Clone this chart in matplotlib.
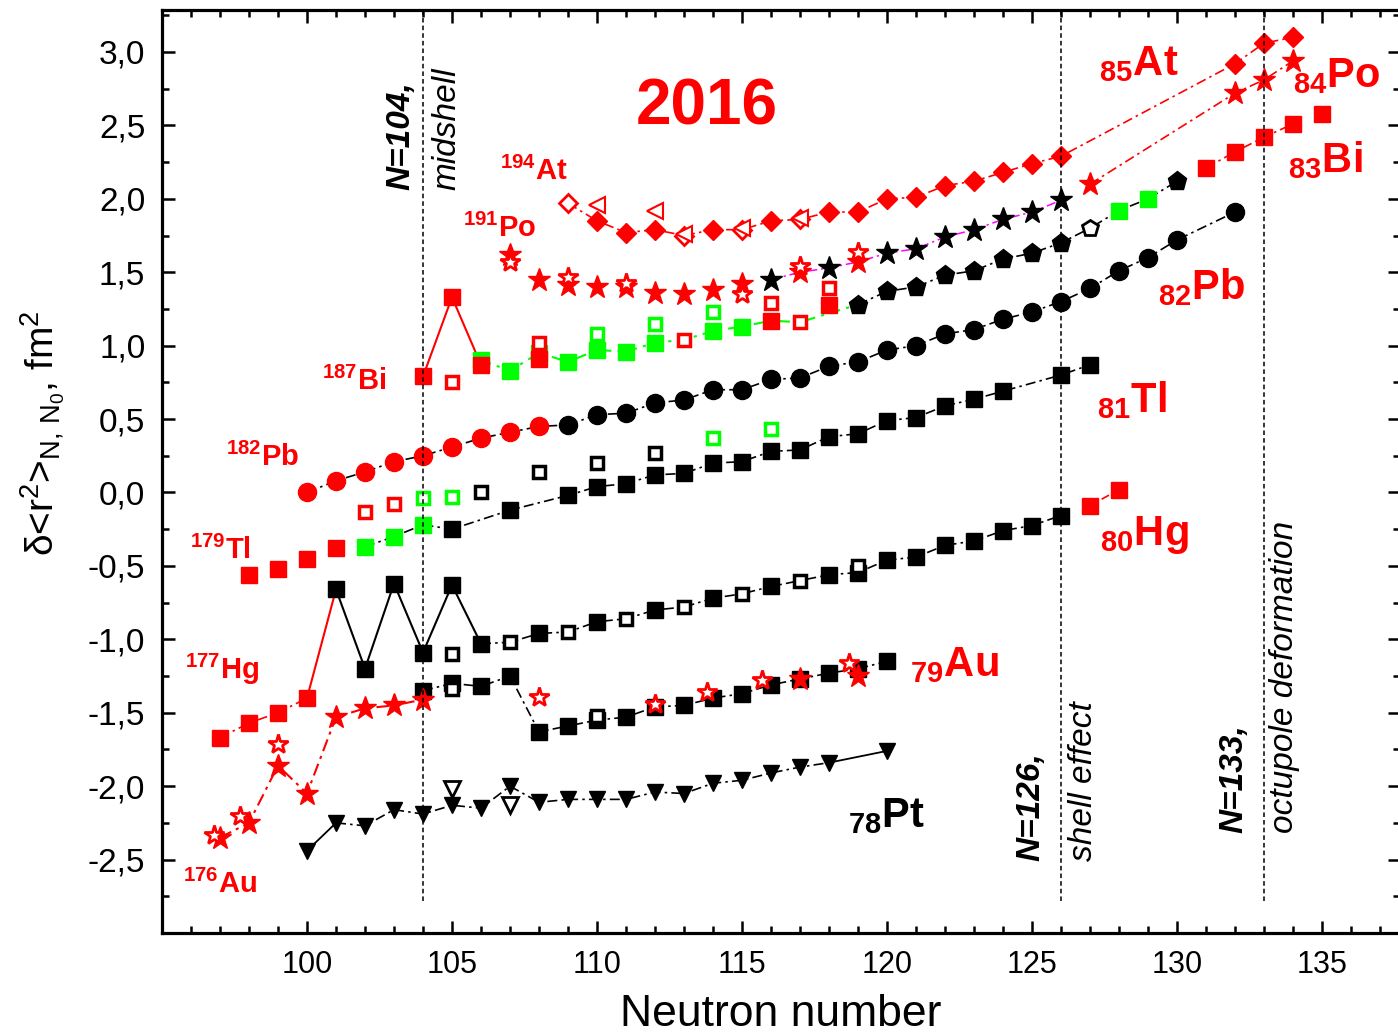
import matplotlib
matplotlib.use("Agg")
import matplotlib.pyplot as plt
from matplotlib.ticker import MultipleLocator, FuncFormatter

plt.rcParams['font.family'] = ['Liberation Sans', 'DejaVu Sans']
plt.rcParams['mathtext.fontset'] = 'custom'
plt.rcParams['mathtext.rm'] = 'Liberation Sans'
plt.rcParams['mathtext.it'] = 'Liberation Sans:italic'
plt.rcParams['mathtext.bf'] = 'Liberation Sans:bold'

RED = '#ff0000'
GREEN = '#00ff00'
MAG = '#ff00ff'

# ---- At (Z=85)
at_n = [110, 111, 112, 114, 116, 118, 119, 120, 121, 122, 123, 124, 125, 126, 132, 133, 134]
at_r = [1.85, 1.77, 1.79, 1.79, 1.85, 1.91, 1.91, 2.00, 2.01, 2.09, 2.12, 2.18, 2.24, 2.29, 2.92, 3.06, 3.10]
at_open_n = [109, 113, 115, 117]
at_open_r = [1.97, 1.75, 1.79, 1.86]
at_tri_n = [110, 112, 113, 115, 117]
at_tri_r = [1.96, 1.92, 1.76, 1.80, 1.87]

# ---- Po (Z=84)
po_n = [107, 108, 109, 110, 111, 112, 113, 114, 115, 117, 119, 127, 132, 133, 134]
po_r = [1.62, 1.45, 1.41, 1.40, 1.40, 1.36, 1.35, 1.38, 1.42, 1.50, 1.57, 2.10, 2.72, 2.81, 2.94]
po_open_n = [107, 109, 111, 115, 117, 119]
po_open_r = [1.57, 1.47, 1.43, 1.35, 1.54, 1.64]
po_blk_n = [116, 118, 120, 121, 122, 123, 124, 125, 126]
po_blk_r = [1.45, 1.53, 1.63, 1.66, 1.74, 1.79, 1.86, 1.91, 1.99]

# ---- Bi (Z=83)
bi_n = [104, 105, 106, 108, 116, 118, 131, 132, 133, 134, 135]
bi_r = [0.79, 1.33, 0.87, 0.91, 1.17, 1.28, 2.21, 2.32, 2.42, 2.51, 2.58]
bi_open_n = [105, 108, 113, 116, 117, 118]
bi_open_r = [0.75, 1.02, 1.04, 1.29, 1.16, 1.39]
bi_grn_n = [106, 107, 108, 109, 110, 111, 112, 114, 115, 128, 129]
bi_grn_r = [0.90, 0.83, 0.95, 0.89, 0.97, 0.96, 1.02, 1.10, 1.13, 1.92, 2.00]
bi_grn_open_n = [110, 112, 114]
bi_grn_open_r = [1.08, 1.15, 1.23]
bi_pent_n = [119, 120, 121, 122, 123, 124, 125, 126, 130]
bi_pent_r = [1.28, 1.37, 1.40, 1.48, 1.51, 1.59, 1.63, 1.70, 2.12]
bi_pent_open_n = [127]
bi_pent_open_r = [1.80]

# ---- Pb (Z=82)
pb_red_n = [100, 101, 102, 103, 104, 105, 106, 107, 108]
pb_red_r = [0.00, 0.08, 0.14, 0.21, 0.25, 0.31, 0.37, 0.41, 0.45]
pb_n = [109, 110, 111, 112, 113, 114, 115, 116, 117, 118, 119, 120, 121, 122, 123, 124, 125, 126, 127, 128, 129, 130, 132]
pb_r = [0.46, 0.53, 0.54, 0.61, 0.63, 0.70, 0.70, 0.77, 0.78, 0.86, 0.89, 0.97, 1.00, 1.08, 1.11, 1.18, 1.23, 1.30, 1.39, 1.51, 1.60, 1.72, 1.91]

# ---- Tl (Z=81)
tl_red_n = [98, 99, 100, 101]
tl_red_r = [-0.56, -0.52, -0.45, -0.38]
tl_grn_n = [102, 103, 104]
tl_grn_r = [-0.37, -0.30, -0.22]
tl_n = [105, 107, 109, 110, 111, 112, 113, 114, 115, 116, 117, 118, 119, 120, 121, 122, 123, 124, 126, 127]
tl_r = [-0.25, -0.12, -0.02, 0.04, 0.06, 0.12, 0.13, 0.20, 0.21, 0.28, 0.29, 0.38, 0.40, 0.49, 0.51, 0.59, 0.635, 0.69, 0.80, 0.87]
tl_red_open_n = [102, 103]
tl_red_open_r = [-0.13, -0.08]
tl_grn_open_n = [104, 105, 114, 116]
tl_grn_open_r = [-0.04, -0.03, 0.37, 0.43]
tl_open_n = [106, 108, 110, 112]
tl_open_r = [0.00, 0.14, 0.20, 0.27]

# ---- Hg (Z=80)
hg_red_n = [97, 98, 99, 100, 127, 128]
hg_red_r = [-1.67, -1.57, -1.50, -1.40, -0.09, 0.02]
hg_n = [101, 102, 103, 104, 105, 106, 108, 110, 112, 114, 116, 118, 119, 120, 121, 122, 123, 124, 125, 126]
hg_r = [-0.66, -1.20, -0.62, -1.09, -0.63, -1.03, -0.96, -0.88, -0.80, -0.72, -0.64, -0.56, -0.545, -0.46, -0.44, -0.36, -0.33, -0.26, -0.225, -0.157]
hg_open_n = [105, 107, 109, 111, 113, 115, 117, 119]
hg_open_r = [-1.10, -1.02, -0.95, -0.86, -0.78, -0.69, -0.60, -0.50]

# ---- Au (Z=79)
au_star_n = [97, 98, 99, 100, 101, 102, 103, 104, 117, 119]
au_star_r = [-2.35, -2.25, -1.86, -2.05, -1.53, -1.47, -1.45, -1.41, -1.27, -1.25]
au_star_open_n = [96.8, 97.7, 99, 108, 112, 113.8, 115.7, 118.7]
au_star_open_r = [-2.33, -2.20, -1.71, -1.39, -1.44, -1.36, -1.28, -1.16]
au_n = [104, 105, 106, 107, 108, 109, 110, 111, 112, 113, 114, 115, 116, 117, 118, 119, 120]
au_r = [-1.35, -1.30, -1.32, -1.25, -1.63, -1.59, -1.55, -1.53, -1.46, -1.45, -1.40, -1.37, -1.31, -1.27, -1.23, -1.20, -1.15]
au_open_n = [105, 110]
au_open_r = [-1.34, -1.52]

# ---- Pt (Z=78)
pt_n = [100, 101, 102, 103, 104, 105, 106, 107, 108, 109, 110, 111, 112, 113, 114, 115, 116, 117, 118, 120]
pt_r = [-2.44, -2.25, -2.27, -2.16, -2.19, -2.13, -2.15, -2.00, -2.11, -2.09, -2.09, -2.09, -2.04, -2.05, -1.98, -1.96, -1.91, -1.87, -1.84, -1.76]
pt_open_n = [105, 107]
pt_open_r = [-2.02, -2.13]


def pts(ns, rs, lo=-999, hi=999, only=None):
    return [(n, r) for n, r in zip(ns, rs) if lo <= n <= hi and (only is None or n in only)]


def path(*groups):
    p = sorted(sum(groups, []))
    return [a for a, b in p], [b for a, b in p]


DD = (0, (6, 2.5, 1.5, 2.5))


def line(p, color='k', ls=DD, lw=1.2):
    ax.plot(p[0], p[1], color=color, ls=ls, lw=lw, zorder=2)


def filled(ns, rs, marker, color, ms, z=3):
    ax.plot(ns, rs, ls='none', marker=marker, ms=ms, mfc=color, mec=color, mew=1, zorder=z)


def hollow(ns, rs, marker, color, ms, mew=2.3, z=4):
    ax.plot(ns, rs, ls='none', marker=marker, ms=ms, mfc='white', mec=color, mew=mew, zorder=z)


fig = plt.figure(figsize=(13.98, 10.36), dpi=100)
ax = fig.add_axes([162 / 1398, 103 / 1036, 1238 / 1398, 923 / 1036])

# connecting lines
line(path(pts(at_n, at_r), pts(at_open_n, at_open_r)), RED)
line(path(pts(po_blk_n, po_blk_r), pts(po_n, po_r, only=[117, 119])), MAG, lw=1.1)
line(path(pts(po_n, po_r, lo=127)), RED)
line(path(pts(bi_n, bi_r, hi=106)), RED, ls='-', lw=1.5)
line(path(pts(bi_grn_n, bi_grn_r, hi=115), pts(bi_open_n, bi_open_r, only=[113, 117]),
          pts(bi_n, bi_r, only=[116]), pts(bi_pent_n, bi_pent_r, hi=119)), GREEN, ls=(0, (5, 3, 1.5, 3)), lw=1.5)
line(path(pts(bi_pent_n, bi_pent_r), pts(bi_pent_open_n, bi_pent_open_r), pts(bi_grn_n, bi_grn_r, lo=128)))
line(path(pts(bi_n, bi_r, lo=131, hi=134)), RED)
line(path(pts(pb_red_n, pb_red_r), pts(pb_n, pb_r)))
line(path(pts(tl_grn_n, tl_grn_r), pts(tl_n, tl_r)))
line(path(pts(hg_red_n, hg_red_r, hi=100)), RED)
line(path(pts(hg_red_n, hg_red_r, only=[100]), pts(hg_n, hg_r, only=[101])), RED, ls='-', lw=1.5)
line(path(pts(hg_n, hg_r, hi=106)), 'k', ls='-', lw=1.5)
line(path(pts(hg_n, hg_r, lo=106), pts(hg_open_n, hg_open_r, lo=107, hi=117)))
line(path(pts(hg_red_n, hg_red_r, lo=127)), RED, ls=(0, (5, 3)))
line(path(pts(au_star_n, au_star_r, hi=104)), RED, lw=1.5)
line(path(pts(au_n, au_r)))
line(path(pts(pt_n, pt_r, hi=101)), 'k', ls='-', lw=1.3)
line(path(pts(pt_n, pt_r, lo=101, hi=118)))
line(path(pts(pt_n, pt_r, lo=118)), 'k', ls='-', lw=1.3)

# markers
filled(at_n, at_r, 'D', RED, 10)
hollow(at_open_n, at_open_r, 'D', RED, 9.5, mew=2)
hollow(at_tri_n, at_tri_r, '<', RED, 11, mew=1.5, z=5)

filled(po_n, po_r, '*', RED, 17)
hollow(po_open_n, po_open_r, '*', RED, 15, mew=2)
filled(po_blk_n, po_blk_r, '*', 'k', 17)

filled(bi_grn_n, bi_grn_r, 's', GREEN, 11)
filled(bi_n, bi_r, 's', RED, 11)
hollow(bi_open_n, bi_open_r, 's', RED, 8.5, mew=2.5)
hollow(bi_grn_open_n, bi_grn_open_r, 's', GREEN, 8.5, mew=2.5)
filled(bi_pent_n, bi_pent_r, 'p', 'k', 14)
hollow(bi_pent_open_n, bi_pent_open_r, 'p', 'k', 12, mew=2)

filled(pb_red_n, pb_red_r, 'o', RED, 13)
filled(pb_n, pb_r, 'o', 'k', 13)

filled(tl_red_n, tl_red_r, 's', RED, 11)
filled(tl_grn_n, tl_grn_r, 's', GREEN, 11)
filled(tl_n, tl_r, 's', 'k', 11)
hollow(tl_red_open_n, tl_red_open_r, 's', RED, 8.5, mew=2.5)
hollow(tl_grn_open_n, tl_grn_open_r, 's', GREEN, 8.5, mew=2.5)
hollow(tl_open_n, tl_open_r, 's', 'k', 8.5, mew=2.5)

filled(hg_red_n, hg_red_r, 's', RED, 11)
filled(hg_n, hg_r, 's', 'k', 11)
hollow(hg_open_n, hg_open_r, 's', 'k', 8.5, mew=2.5)

filled(au_n, au_r, 's', 'k', 11)
hollow(au_open_n, au_open_r, 's', 'k', 8.5, mew=2.5)
filled(au_star_n, au_star_r, '*', RED, 17, z=5)
hollow(au_star_open_n, au_star_open_r, '*', RED, 15, mew=2, z=5)

filled(pt_n, pt_r, 'v', 'k', 12)
hollow(pt_open_n, pt_open_r, 'v', 'k', 11, mew=2)

# magic numbers
for n0 in [104, 126, 133]:
    ax.plot([n0, n0], [-2.78, 3.4], color='k', ls=(0, (3, 2)), lw=1.1, zorder=6)

vt = dict(rotation=90, ha='center', va='bottom', fontsize=24, style='italic')
ax.text(103.24, 2.06, 'N=104,', fontweight='bold', **vt)
ax.text(104.83, 2.06, 'midshell', **vt)
ax.text(124.97, -2.51, 'N=126,', fontweight='bold', **vt)
ax.text(126.76, -2.51, 'shell effect', **vt)
ax.text(131.97, -2.32, 'N=133,', fontweight='bold', **vt)
ax.text(133.72, -2.32, 'octupole deformation', **vt)

ax.text(113.8, 2.625, '2016', color=RED, fontsize=46, fontweight='bold', ha='center', va='center')

lt = dict(color=RED, fontsize=21, fontweight='bold', ha='left', va='baseline')
ax.text(106.66, 2.13, r'$^{\mathbf{194}}$At', **lt)
ax.text(105.38, 1.74, r'$^{\mathbf{191}}$Po', **lt)
ax.text(100.52, 0.70, r'$^{\mathbf{187}}$Bi', **lt)
ax.text(97.2, 0.18, r'$^{\mathbf{182}}$Pb', **lt)
ax.text(95.97, -0.45, r'$^{\mathbf{179}}$Tl', **lt)
ax.text(95.8, -1.27, r'$^{\mathbf{177}}$Hg', **lt)
ax.text(95.72, -2.73, r'$^{\mathbf{176}}$Au', **lt)

rt = dict(color=RED, fontsize=30, fontweight='bold', ha='left', va='baseline')
ax.text(127.3, 2.84, r'$_{\mathbf{85}}$At', **rt)
ax.text(134.0, 2.76, r'$_{\mathbf{84}}$Po', **rt)
ax.text(133.83, 2.18, r'$_{\mathbf{83}}$Bi', **rt)
ax.text(129.34, 1.32, r'$_{\mathbf{82}}$Pb', **rt)
ax.text(127.24, 0.55, r'$_{\mathbf{81}}$Tl', **rt)
ax.text(127.34, -0.36, r'$_{\mathbf{80}}$Hg', **rt)
ax.text(120.79, -1.25, r'$_{\mathbf{79}}$Au', **rt)
rt['color'] = 'k'
ax.text(118.66, -2.28, r'$_{\mathbf{78}}$Pt', **rt)

ax.set_xlim(95, 95 + 1238 / 29)
ax.set_ylim(-3.0, 3.286)
ax.xaxis.set_major_locator(MultipleLocator(5))
ax.xaxis.set_minor_locator(MultipleLocator(1))
ax.yaxis.set_major_locator(MultipleLocator(0.5))
ax.yaxis.set_minor_locator(MultipleLocator(0.25))
ax.xaxis.set_major_formatter(FuncFormatter(lambda v, p: '' if v < 100 else f'{v:.0f}'))
ax.yaxis.set_major_formatter(FuncFormatter(lambda v, p: '' if v < -2.9 else f'{v:.1f}'.replace('.', ',')))
ax.tick_params(which='both', direction='in', top=True, right=True, width=1.8)
ax.tick_params(which='major', length=9)
ax.tick_params(which='minor', length=5)
ax.tick_params(axis='y', labelsize=24, pad=12)
ax.tick_params(axis='x', labelsize=22, pad=12)
for s in ax.spines.values():
    s.set_linewidth(2.3)

ax.set_xlabel('Neutron number', fontsize=32, labelpad=10)
ax.set_ylabel(r'$\mathrm{\delta}$<r$^2$>$_{\mathrm{N,\,N_0}}$, fm$^2$', fontsize=28)
ax.yaxis.set_label_coords(-0.077, 0.542)

fig.savefig('out.png', dpi=100)
